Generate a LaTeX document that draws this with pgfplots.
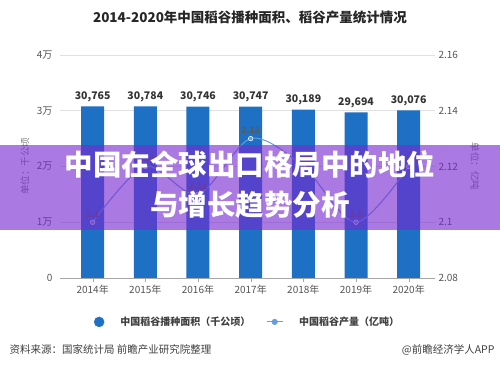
\documentclass[border=0pt]{standalone}
\usepackage{pgfplots}
\pgfplotsset{compat=1.18}
\usepackage{fontspec}
\setmainfont{Noto Sans CJK SC}
\definecolor{barblue}{RGB}{30,112,196}
\definecolor{lineblue}{RGB}{100,158,222}
\definecolor{ovl}{RGB}{118,40,208}
\definecolor{tickgray}{RGB}{85,85,85}
\definecolor{gridgray}{RGB}{225,225,225}
\begin{document}
\begin{tikzpicture}
\useasboundingbox (0pt,0pt) rectangle (500pt,369pt);
\fill[white] (0pt,0pt) rectangle (500pt,369pt);
\node[font=\fontsize{13.5}{15}\selectfont\bfseries, text=black!85] at (250pt,352pt) {2014-2020年中国稻谷播种面积、稻谷产量统计情况};
\begin{axis}[
  at={(60pt,91pt)}, anchor=south west,
  scale only axis, width=375pt, height=223pt,
  xmin=-0.62, xmax=6.5, ymin=0, ymax=40000,
  scaled y ticks=false,
  xtick={0,1,2,3,4,5,6},
  xticklabels={2014年,2015年,2016年,2017年,2018年,2019年,2020年},
  ytick={0,10000,20000,30000,40000},
  yticklabels={0,1万,2万,3万,4万},
  ymajorgrids, grid style={gridgray, line width=0.6pt},
  axis x line*=bottom, axis y line*=left,
  y axis line style={draw=none},
  x axis line style={draw=gray!70, line width=0.8pt},
  ytick style={draw=none},
  xtick style={draw=gray!70},
  tick align=outside, major tick length=4pt,
  ticklabel style={font=\fontsize{10}{11}\selectfont, text=tickgray},
  /pgf/number format/assume math mode=true,
  /pgf/number format/.cd, fixed, precision=0, 1000 sep={,}, /pgfplots/.cd,
  ylabel={单位：千公顷},
  every axis y label/.style={at={(axis description cs:0,0.5)}, xshift=-35pt, rotate=90, anchor=center, font=\fontsize{9.5}{10}\selectfont, text=gray},
  nodes near coords,
  every node near coord/.append style={font=\fontsize{10.5}{11}\selectfont\bfseries, text=black!80, yshift=1pt},
]
\addplot[ybar, bar width=23pt, fill=barblue, draw=none] coordinates {
  (0,30765) (1,30784) (2,30746) (3,30747) (4,30189) (5,29694) (6,30076)
};
\end{axis}
\begin{axis}[
  at={(60pt,91pt)}, anchor=south west,
  scale only axis, width=375pt, height=223pt,
  xmin=-0.62, xmax=6.5, ymin=2.08, ymax=2.16,
  axis x line=none, axis y line*=right,
  y axis line style={draw=none},
  ytick={2.08,2.10,2.12,2.14,2.16},
  yticklabels={2.08,2.1,2.12,2.14,2.16},
  ytick style={draw=none},
  ticklabel style={font=\fontsize{10}{11}\selectfont, text=tickgray},
  ylabel={单位：亿吨},
  every axis y label/.style={at={(axis description cs:1,0.5)}, xshift=40pt, rotate=-90, anchor=center, font=\fontsize{9.5}{10}\selectfont, text=gray},
  legend columns=2,
  legend style={at={(axis description cs:0.5,-0.197)}, anchor=center, draw=none, fill=none,
    font=\fontsize{10}{11}\selectfont\bfseries, text=black!75, column sep=14pt},
  /pgf/number format/assume math mode=true,
]
\addlegendimage{legend image code/.code={\fill[barblue] (0.3cm,0cm) circle (5pt);}}
\addlegendentry{中国稻谷播种面积（千公顷）}
\addplot[lineblue, line width=1pt, smooth, mark=*, mark size=2.3pt, mark options={fill=lineblue, draw=white, line width=0.5pt},
  nodes near coords, point meta=explicit symbolic,
  every node near coord/.append style={font=\fontsize{8.5}{9}\selectfont\bfseries, text=black!65, yshift=1pt},
  legend image code/.code={\draw[lineblue, line width=1pt] (0cm,0cm) -- (0.55cm,0cm); \fill[lineblue] (0.275cm,0cm) circle (2.5pt);}
] coordinates {
  (0,2.10) [2.1] (1,2.12) [2.12] (2,2.11) [2.11] (3,2.13) [2.13] (4,2.12) [2.12] (5,2.10) [2.1] (6,2.12) [2.12]
};
\addlegendentry{中国稻谷产量（亿吨）}
\end{axis}
\node[anchor=west, font=\fontsize{10.5}{11}\selectfont, text=black!75] at (6pt,19pt) {资料来源：国家统计局 前瞻产业研究院整理};
\node[anchor=east, font=\fontsize{10.5}{11}\selectfont, text=black!75] at (498pt,19pt) {@前瞻经济学人APP};
\fill[ovl, opacity=0.62] (0pt,139pt) rectangle (500pt,224pt);
\node[font=\fontsize{28.5}{31}\selectfont\bfseries, text=white] at (250pt,205pt) {中国在全球出口格局中的地位};
\node[font=\fontsize{28.5}{31}\selectfont\bfseries, text=white] at (250pt,164pt) {与增长趋势分析};
\end{tikzpicture}
\end{document}
